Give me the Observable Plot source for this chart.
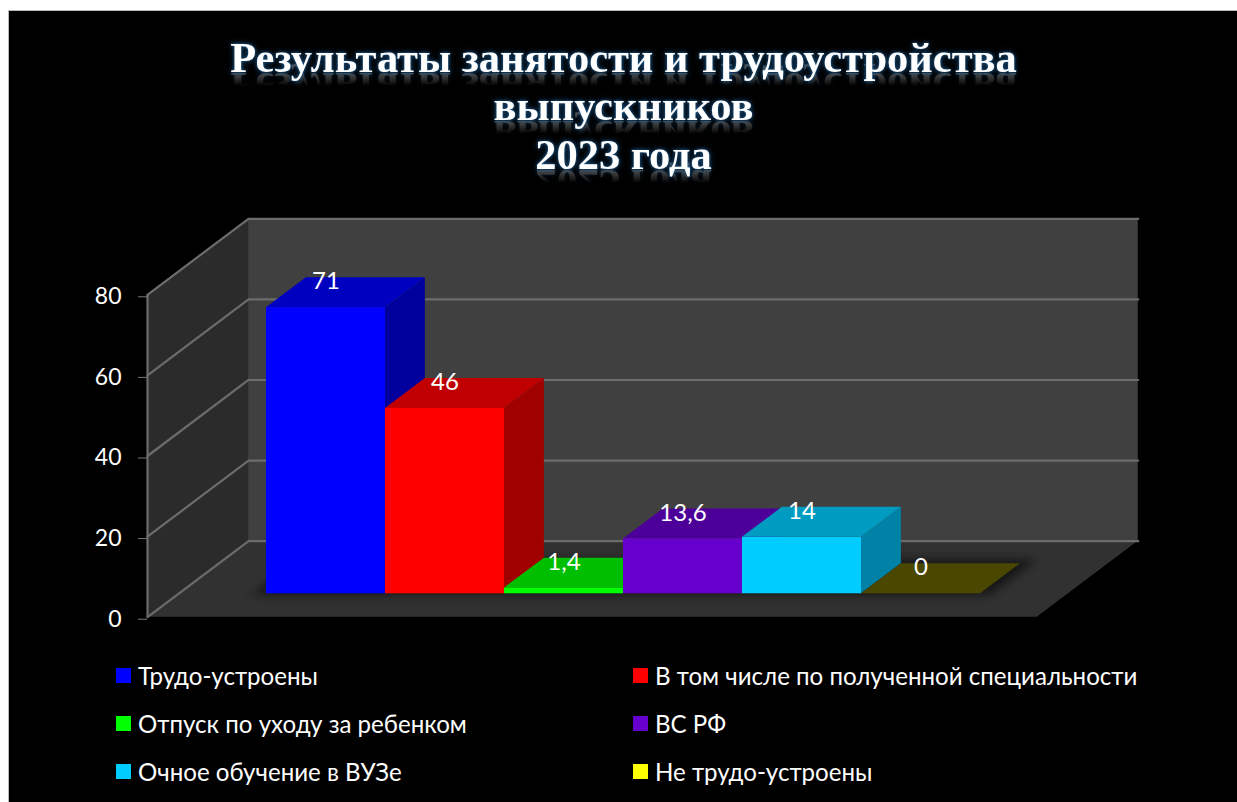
<!DOCTYPE html>
<html lang="ru">
<head>
<meta charset="utf-8">
<script src="https://cdn.jsdelivr.net/npm/d3@7"></script>
<script src="https://cdn.jsdelivr.net/npm/@observablehq/plot@0.6"></script>
<style>
  html, body { margin:0; padding:0; background:#fff; overflow:hidden; width:1237px; height:802px; }
  #panel { position:absolute; left:8px; top:10px; width:1229px; height:792px; background:#000; border-left:1px solid #bbb; border-top:1px solid #bbb; box-sizing:border-box; }
  #title { position:absolute; left:0; top:-1px; width:1229px; height:190px; text-align:center; color:#fff;
    font:bold 42.5px/48px "Liberation Serif", serif; }
  #title div { position:absolute; left:0; right:0; }
  #title span { display:inline-block; text-shadow:0 0 3px #1f5f96, 0 0 6px #17456e;
    -webkit-box-reflect: below -19px linear-gradient(transparent 52%, rgba(255,255,255,.32) 80%); }
  #chart { position:absolute; left:-1px; top:189px; }
  #chart svg { display:block; background:transparent; overflow:visible; }
  .shadow { filter:blur(5px); }
  #legend { position:absolute; left:-1px; top:0; width:1229px; height:792px; pointer-events:none;
    font:24.1px "Lato", "Noto Sans", sans-serif; color:#fff; }
  .item { position:absolute; height:30px; line-height:30px; white-space:nowrap; }
  .item i { position:absolute; left:0; top:7px; width:15px; height:15px; }
  .item b { position:absolute; left:22px; font-weight:400; }
</style>
</head>
<body>
<div id="panel">
  <div id="title"></div>
  <div id="chart"></div>
  <div id="legend"></div>
</div>
<script>
const titleLines = ["Результаты занятости и трудоустройства", "выпускников", "2023 года"];
const categories = ["Трудо-устроены", "В том числе по полученной специальности", "Отпуск по уходу за ребенком", "ВС РФ", "Очное обучение в ВУЗе", "Не трудо-устроены"];
const values = [71, 46, 1.4, 13.6, 14, 0];
const yTicks = [0, 20, 40, 60, 80];

const frontColors = ["#0000ff", "#ff0000", "#00ff00", "#6600cc", "#00ccff", "#ffff00"];
const topColors   = ["#0000c0", "#c00000", "#00bf00", "#4d0099", "#009bc0", "#4a4700"];
const sideColors  = ["#00009c", "#a00000", "#009c00", "#3e007c", "#0082a6", "#4a4700"];

// Oblique projection of the 3-D box onto the plain x / y scales
const boxWidth = 7.476, barInset = 0.738;
const depthX = 0.849, depthY = 18.86;
const barFront = 0.308, barBack = 0.703;
const px = (c, d) => c + depthX * d;
const py = (v, d) => v + depthY * d;

// Face helpers: each returns a Plot mark built in data coordinates
const hFace = (c0, c1, v, d0, d1, fill, opts = {}) => Plot.areaX(
  [d0, d1].map(d => ({ y: py(v, d), x1: px(c0, d), x2: px(c1, d) })),
  { y: "y", x1: "x1", x2: "x2", fill, ...opts });
const sideFace = (c, v0, v1, d0, d1, fill) => Plot.areaY(
  [d0, d1].map(d => ({ x: px(c, d), y1: py(v0, d), y2: py(v1, d) })),
  { x: "x", y1: "y1", y2: "y2", fill });
const frontFace = (c0, c1, v0, v1, d, fill) => Plot.rect(
  [{ x1: px(c0, d), x2: px(c1, d), y1: py(v0, d), y2: py(v1, d) }],
  { x1: "x1", x2: "x2", y1: "y1", y2: "y2", fill });

const gridData = yTicks.flatMap(v => [
  { v, x: px(0, 0), y: py(v, 0) },
  { v, x: px(0, 1), y: py(v, 1) },
  { v, x: px(boxWidth, 1), y: py(v, 1) }
]);

const barMarks = values.flatMap((v, i) => {
  const c0 = barInset + i, c1 = c0 + 1;
  if (v === 0) return [hFace(c0, c1, 0, barFront, barBack, topColors[i])];
  return [
    sideFace(c1, 0, v, barFront, barBack, sideColors[i]),
    hFace(c0, c1, v, barFront, barBack, topColors[i]),
    frontFace(c0, c1, 0, v, barFront, frontColors[i])
  ];
});

const labelData = values.map((v, i) => ({
  x: px(barInset + i + 0.5, barFront),
  y: py(v, barFront),
  text: String(v).replace(".", ",")
}));

const labelFont = "Lato, 'Noto Sans', sans-serif";

const chart = Plot.plot({
  width: 1229, height: 440,
  marginLeft: 139, marginRight: 0, marginTop: 0, marginBottom: 0,
  style: { background: "transparent", overflow: "visible" },
  x: { domain: [0, boxWidth], range: [139, 1028.7], axis: null },
  y: { domain: [0, 80], range: [416.7, 94.3], axis: null },
  marks: [
    // back wall, left wall, floor
    frontFace(0, boxWidth, 0, 80, 1, "#404040"),
    sideFace(0, 0, 80, 0, 1, "#2b2b2b"),
    hFace(0, boxWidth, 0, 0, 1, "#313131"),
    // floor shadow below the bars
    hFace(barInset - 0.1, barInset + 6.1, 0, barFront - 0.02, barBack + 0.05, "#161616", { className: "shadow" }),
    // grid
    Plot.line(gridData, { x: "x", y: "y", z: "v", stroke: "#6c6c6c", strokeWidth: 2.2 }),
    Plot.ruleX([0], { y1: 0, y2: 80, stroke: "#6c6c6c", strokeWidth: 2.2 }),
    Plot.axisY({
      ticks: yTicks, anchor: "left", tickSize: 9, tickPadding: 17, stroke: "#7a7a7a",
      color: "#fff", fill: "#fff", fontSize: 23, label: null, fontFamily: labelFont,
      tickFormat: d => String(d), dy: 2
    }),
    ...barMarks,
    Plot.text(labelData, {
      x: "x", y: "y", text: "text", dy: -26, fill: "#fff", fontSize: 24,
      fontFamily: labelFont, textAnchor: "middle", lineAnchor: "middle"
    })
  ]
});
document.getElementById("chart").append(chart);

// Title
const titleEl = document.getElementById("title");
const titleTops = [24, 72, 121];
titleLines.forEach((t, i) => {
  const d = document.createElement("div");
  d.style.top = titleTops[i] + "px";
  const s = document.createElement("span");
  s.textContent = t;
  d.append(s);
  titleEl.append(d);
});

// Legend
const legendEl = document.getElementById("legend");
const columnLefts = [108, 625];
const rowTops = [650, 698, 746];
categories.forEach((c, i) => {
  const it = document.createElement("div");
  it.className = "item";
  it.style.left = columnLefts[i % 2] + "px";
  it.style.top = rowTops[Math.floor(i / 2)] + "px";
  const sw = document.createElement("i");
  sw.style.background = frontColors[i];
  const tx = document.createElement("b");
  tx.textContent = c;
  it.append(sw, tx);
  legendEl.append(it);
});
</script>
</body>
</html>
